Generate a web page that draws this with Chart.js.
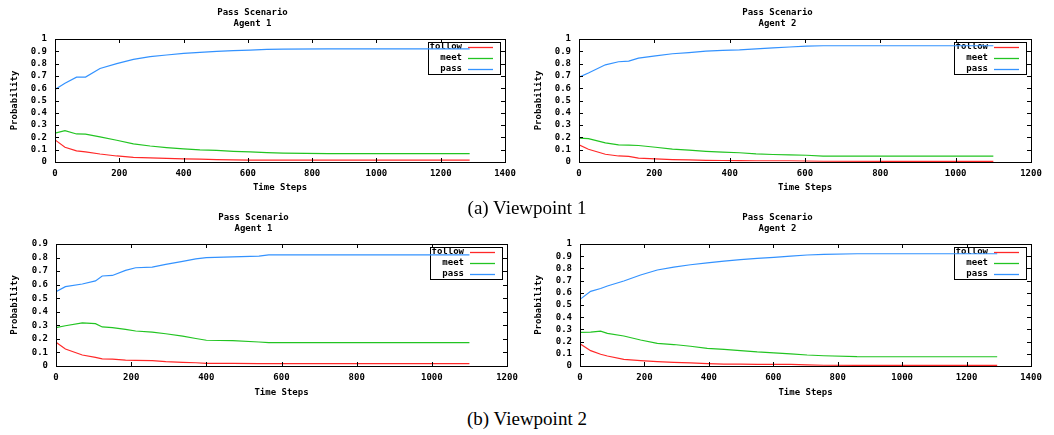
<!DOCTYPE html>
<html>
<head>
<meta charset="utf-8">
<script src="https://cdn.jsdelivr.net/npm/chart.js@4.4.1/dist/chart.umd.min.js"></script>
<style>
  html, body { margin: 0; padding: 0; background: #fff; }
  #page { position: relative; width: 1054px; height: 435px; overflow: hidden; }
  .panel { position: absolute; }
  .caption { position: absolute; left: 0; width: 1054px; text-align: center;
    font-family: 'Liberation Serif', 'Times New Roman', serif; font-size: 19px; color: #000; }
</style>
</head>
<body>
<div id="page">
  <div class="panel" style="left:0;top:205px;width:524px;height:200px"><canvas id="c3"></canvas></div>
  <div class="panel" style="left:524px;top:205px;width:530px;height:200px"><canvas id="c4"></canvas></div>
  <div class="panel" style="left:0;top:0;width:524px;height:200px"><canvas id="c1"></canvas></div>
  <div class="panel" style="left:524px;top:0;width:530px;height:200px"><canvas id="c2"></canvas></div>
  <div class="caption" style="top:197px">(a) Viewpoint 1</div>
  <div class="caption" style="top:408px">(b) Viewpoint 2</div>
</div>
<script>
const seriesNames = ['follow', 'meet', 'pass'];

// (a) Viewpoint 1, Agent 1
const a1Steps = [0, 31, 67, 95, 140, 192, 244, 296, 347, 400, 451, 503, 555, 607, 659, 710, 850, 1290];
const a1Follow = [0.18, 0.12, 0.09, 0.082, 0.065, 0.049, 0.038, 0.033, 0.03, 0.025, 0.023, 0.02, 0.018, 0.016, 0.015, 0.015, 0.015, 0.015];
const a1Meet = [0.235, 0.255, 0.228, 0.226, 0.204, 0.177, 0.147, 0.13, 0.117, 0.106, 0.098, 0.095, 0.087, 0.082, 0.076, 0.072, 0.068, 0.068];
const a1Pass = [0.59, 0.64, 0.69, 0.69, 0.76, 0.8, 0.834, 0.856, 0.87, 0.883, 0.891, 0.9, 0.905, 0.91, 0.915, 0.918, 0.92, 0.92];

// (a) Viewpoint 1, Agent 2
const a2Steps = [0, 25, 70, 105, 132, 158, 203, 248, 292, 337, 381, 426, 470, 515, 559, 604, 648, 820, 1100];
const a2Follow = [0.14, 0.104, 0.063, 0.049, 0.045, 0.032, 0.025, 0.02, 0.017, 0.014, 0.012, 0.011, 0.01, 0.01, 0.01, 0.008, 0.006, 0.005, 0.005];
const a2Meet = [0.194, 0.19, 0.155, 0.14, 0.138, 0.134, 0.12, 0.104, 0.096, 0.087, 0.08, 0.075, 0.066, 0.061, 0.058, 0.055, 0.048, 0.047, 0.047];
const a2Pass = [0.69, 0.724, 0.79, 0.815, 0.82, 0.845, 0.863, 0.88, 0.89, 0.902, 0.908, 0.912, 0.92, 0.928, 0.935, 0.942, 0.945, 0.945, 0.945];

// (b) Viewpoint 2, Agent 1
const b1Steps = [0, 25, 70, 105, 123, 150, 185, 212, 256, 292, 337, 372, 400, 470, 540, 566, 1100];
const b1Follow = [0.175, 0.125, 0.081, 0.064, 0.053, 0.05, 0.044, 0.042, 0.04, 0.032, 0.027, 0.024, 0.02, 0.019, 0.018, 0.018, 0.018];
const b1Meet = [0.283, 0.297, 0.318, 0.312, 0.288, 0.283, 0.27, 0.258, 0.25, 0.238, 0.22, 0.203, 0.19, 0.187, 0.177, 0.172, 0.172];
const b1Pass = [0.548, 0.585, 0.605, 0.628, 0.664, 0.668, 0.705, 0.725, 0.73, 0.75, 0.772, 0.79, 0.8, 0.805, 0.81, 0.82, 0.82];

// (b) Viewpoint 2, Agent 2
const b2Steps = [0, 33, 64, 85, 136, 188, 240, 291, 343, 395, 447, 498, 550, 602, 654, 705, 757, 860, 1295];
const b2Follow = [0.183, 0.126, 0.096, 0.082, 0.055, 0.044, 0.036, 0.03, 0.025, 0.02, 0.016, 0.015, 0.014, 0.014, 0.013, 0.009, 0.006, 0.005, 0.005];
const b2Meet = [0.276, 0.278, 0.285, 0.268, 0.246, 0.213, 0.186, 0.176, 0.162, 0.145, 0.137, 0.126, 0.115, 0.108, 0.1, 0.09, 0.084, 0.077, 0.076];
const b2Pass = [0.546, 0.612, 0.635, 0.656, 0.697, 0.746, 0.787, 0.81, 0.83, 0.845, 0.86, 0.872, 0.882, 0.89, 0.9, 0.91, 0.915, 0.92, 0.92];

const lineColors = { follow: '#ff2828', meet: '#22c422', pass: '#3392ff' };
const monoFont = { family: "'DejaVu Sans Mono', monospace", size: 9, weight: 'bold', lineHeight: 11 / 9 };

// gnuplot style: border box plus inward ticks on all four sides
const frameTicks = {
  id: 'frameTicks',
  afterDraw(chart) {
    const { ctx, chartArea: a, scales } = chart;
    ctx.save();
    ctx.strokeStyle = '#000';
    ctx.lineWidth = 1;
    ctx.beginPath();
    scales.y.ticks.forEach((t) => {
      const y = Math.round(scales.y.getPixelForValue(t.value)) + 0.5;
      ctx.moveTo(a.left, y); ctx.lineTo(a.left + 4, y);
      ctx.moveTo(a.right, y); ctx.lineTo(a.right - 4, y);
    });
    scales.x.ticks.forEach((t) => {
      const x = Math.round(scales.x.getPixelForValue(t.value)) + 0.5;
      ctx.moveTo(x, a.bottom); ctx.lineTo(x, a.bottom - 4);
      ctx.moveTo(x, a.top); ctx.lineTo(x, a.top + 4);
    });
    ctx.stroke();
    ctx.strokeRect(Math.round(a.left) + 0.5, Math.round(a.top) + 0.5, Math.round(a.right - a.left), Math.round(a.bottom - a.top));
    ctx.restore();
  }
};

// key box in the top right corner, text before the line sample
const gnuKey = {
  id: 'gnuKey',
  beforeDatasetsDraw(chart) {
    const { ctx, chartArea: a } = chart;
    const boxRight = Math.round(a.right) - 5;
    const boxLeft = boxRight - 72;
    const boxTop = Math.round(a.top) + 3;
    ctx.save();
    ctx.lineWidth = 1;
    ctx.strokeStyle = '#000';
    ctx.strokeRect(boxLeft + 0.5, boxTop + 0.5, 72, 32);
    ctx.font = "bold 9px 'DejaVu Sans Mono', monospace";
    ctx.textAlign = 'right';
    ctx.textBaseline = 'middle';
    chart.data.datasets.forEach((ds, i) => {
      const y = boxTop + 5 + i * 11;
      ctx.fillStyle = '#000';
      ctx.fillText(ds.label, boxRight - 38, y);
      ctx.strokeStyle = ds.borderColor;
      ctx.lineWidth = 1.3;
      ctx.beginPath();
      ctx.moveTo(boxRight - 32, y + 0.5);
      ctx.lineTo(boxRight - 7, y + 0.5);
      ctx.stroke();
    });
    ctx.restore();
  }
};

function makeChart(id, agent, steps, follow, meet, pass, xMax, yMax, dims) {
  const values = { follow, meet, pass };
  return new Chart(document.getElementById(id), {
    type: 'line',
    data: {
      datasets: seriesNames.map((name) => ({
        label: name,
        data: steps.map((x, i) => ({ x, y: values[name][i] })),
        borderColor: lineColors[name],
        backgroundColor: 'transparent',
        borderWidth: 1.2,
        pointRadius: 0,
        tension: 0
      }))
    },
    options: {
      responsive: true,
      maintainAspectRatio: false,
      animation: false,
      layout: { padding: { left: 0, right: dims.right, top: 0, bottom: 0 } },
      plugins: {
        legend: { display: false },
        tooltip: { enabled: false },
        title: {
          display: true,
          text: ['Pass Scenario', agent],
          color: '#000',
          font: monoFont,
          padding: { top: 7, bottom: 10 }
        }
      },
      scales: {
        x: {
          type: 'linear',
          min: 0,
          max: xMax,
          afterFit: (s) => { s.height = dims.xh; },
          grid: { display: false, drawTicks: false },
          border: { display: false },
          ticks: { stepSize: 200, padding: 6, autoSkip: false, color: '#000', font: monoFont, maxRotation: 0, callback: (v) => String(v) },
          title: { display: true, text: 'Time Steps', color: '#000', font: monoFont, padding: { top: 0, bottom: 6.5 } }
        },
        y: {
          min: 0,
          max: yMax,
          afterFit: (s) => { s.width = dims.yw; },
          grid: { display: false, drawTicks: false },
          border: { display: false },
          ticks: { stepSize: 0.1, padding: 8, autoSkip: false, color: '#000', font: monoFont, callback: (v) => String(+v.toFixed(1)) },
          title: { display: true, text: 'Probability', color: '#000', font: monoFont, padding: { top: 9.5, bottom: 0 } }
        }
      }
    },
    plugins: [frameTicks, gnuKey]
  });
}

makeChart('c1', 'Agent 1', a1Steps, a1Follow, a1Meet, a1Pass, 1400, 1, { yw: 55, right: 19, xh: 38 });
makeChart('c2', 'Agent 2', a2Steps, a2Follow, a2Meet, a2Pass, 1200, 1, { yw: 55, right: 23, xh: 38 });
makeChart('c3', 'Agent 1', b1Steps, b1Follow, b1Meet, b1Pass, 1200, 0.9, { yw: 56, right: 17, xh: 39 });
makeChart('c4', 'Agent 2', b2Steps, b2Follow, b2Meet, b2Pass, 1400, 1, { yw: 56, right: 23, xh: 39 });
</script>
</body>
</html>
